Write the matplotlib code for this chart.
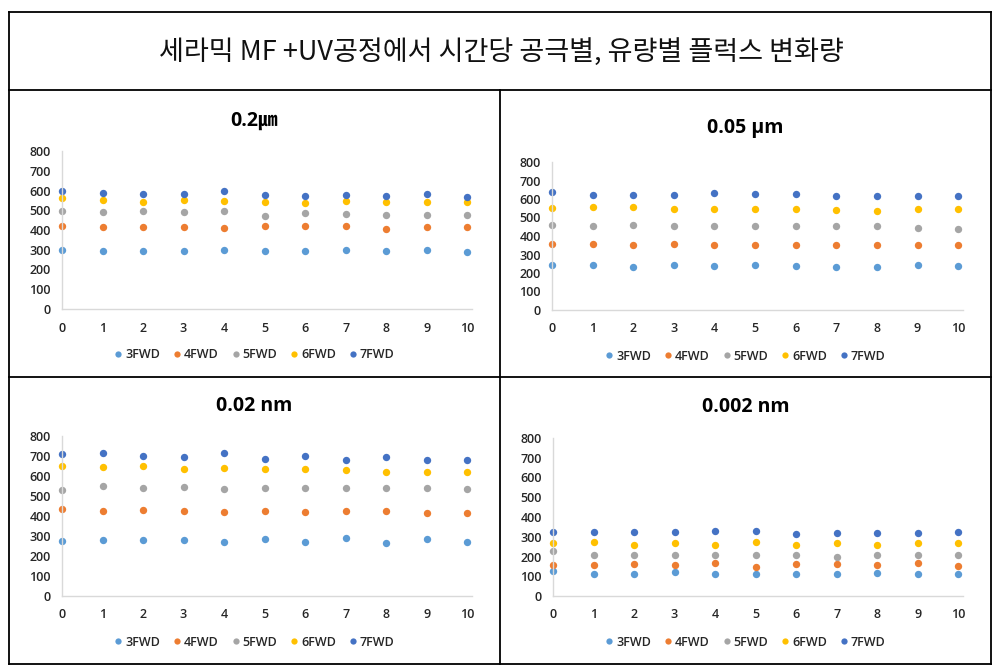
import matplotlib
matplotlib.use("Agg")
import matplotlib.pyplot as plt
from matplotlib.lines import Line2D

W, H = 1003, 672

main_title = "세라믹 MF +UV공정에서 시간당 공극별, 유량별 플럭스 변화량"
series_names = ["3FWD", "4FWD", "5FWD", "6FWD", "7FWD"]
series_colors = ["#5B9BD5", "#ED7D31", "#A5A5A5", "#FFC000", "#4472C4"]
hours = [0, 1, 2, 3, 4, 5, 6, 7, 8, 9, 10]
y_ticks = [0, 100, 200, 300, 400, 500, 600, 700, 800]
panel_titles = ["0.2㎛", "0.05 μm", "0.02 nm", "0.002 nm"]

flux_0_2um = [
    [300, 295, 295, 295, 300, 295, 295, 300, 295, 300, 290],
    [421, 416, 416, 416, 409, 421, 421, 421, 406, 416, 416],
    [497, 492, 497, 492, 497, 472, 485, 482, 477, 477, 477],
    [561, 551, 544, 551, 547, 544, 536, 547, 544, 544, 544],
    [598, 589, 583, 583, 598, 578, 573, 578, 573, 583, 569],
]
flux_0_05um = [
    [243, 243, 232, 243, 237, 243, 237, 232, 232, 243, 237],
    [356, 356, 351, 356, 351, 351, 351, 351, 351, 351, 351],
    [458, 453, 458, 453, 453, 453, 453, 453, 453, 442, 437],
    [554, 556, 556, 548, 548, 545, 545, 538, 534, 545, 545],
    [636, 620, 620, 620, 631, 626, 626, 615, 615, 615, 615],
]
flux_0_02nm = [
    [277, 282, 282, 282, 272, 287, 272, 292, 267, 287, 272],
    [437, 427, 432, 427, 422, 427, 422, 427, 427, 417, 417],
    [532, 552, 542, 547, 537, 542, 542, 542, 542, 542, 537],
    [652, 647, 652, 637, 642, 637, 637, 632, 622, 622, 622],
    [712, 717, 702, 697, 717, 687, 702, 682, 697, 682, 682],
]
flux_0_002nm = [
    [125, 113, 113, 123, 113, 113, 113, 113, 118, 113, 113],
    [157, 157, 162, 157, 165, 147, 160, 160, 157, 165, 152],
    [229, 209, 209, 209, 209, 209, 209, 200, 209, 209, 209],
    [266, 274, 259, 266, 259, 274, 259, 269, 259, 269, 266],
    [325, 325, 325, 325, 330, 330, 315, 320, 320, 320, 325],
]
panel_data = [flux_0_2um, flux_0_05um, flux_0_02nm, flux_0_002nm]

fig = plt.figure(figsize=(W / 100, H / 100), dpi=100)
fig.patch.set_facecolor("white")

def fx(px):
    return px / W

def fy(py):
    return 1 - py / H

# table grid lines
lw = 1.3
def hline(y, x0, x1):
    fig.add_artist(Line2D([fx(x0), fx(x1)], [fy(y), fy(y)], color="black", lw=lw,
                          transform=fig.transFigure))
def vline(x, y0, y1):
    fig.add_artist(Line2D([fx(x), fx(x)], [fy(y0), fy(y1)], color="black", lw=lw,
                          transform=fig.transFigure))

hline(12, 9, 991)
hline(90, 9, 991)
hline(377, 9, 991)
hline(664, 9, 991)
vline(9, 12, 664)
vline(991, 12, 664)
vline(500, 90, 664)

fig.text(0.5, fy(52), main_title, ha="center", va="center", fontsize=19.5,
         family=["Noto Sans CJK KR", "DejaVu Sans"], color="#111111")

# panel layouts: (left px, right px, top px (800), bottom px (0), title y, legend y, cell center x)
layouts = [
    (62, 472, 151, 309, 121, 355, 254.5),
    (552, 963, 162, 310, 128, 356, 745.5),
    (62, 472, 436, 596, 406, 642, 254.5),
    (553, 963, 438, 596, 407, 642, 745.5),
]

tick_family = ["Open Sans", "DejaVu Sans"]

for data, title, (l, r, t, b, ty, ly, cx) in zip(panel_data, panel_titles, layouts):
    ax = fig.add_axes([fx(l), fy(b), fx(r - l), (b - t) / H])
    handles = []
    for vals, name, col in zip(data, series_names, series_colors):
        h, = ax.plot(hours, vals, linestyle="none", marker="o", markersize=5.3,
                     color=col, markeredgewidth=0, clip_on=False, label=name)
        handles.append(h)
    ax.set_xlim(0, 10.12)
    ax.set_ylim(0, 800)
    ax.set_xticks(hours)
    ax.set_yticks(y_ticks)
    ax.tick_params(length=0, colors="#262626")
    ax.tick_params(axis="y", pad=8)
    ax.tick_params(axis="x", pad=9)
    for lab in ax.get_xticklabels() + ax.get_yticklabels():
        lab.set_family(tick_family)
        lab.set_fontsize(9)
        lab.set_fontweight("semibold")
    for s in ["top", "right"]:
        ax.spines[s].set_visible(False)
    for s in ["left", "bottom"]:
        ax.spines[s].set_color("#D9D9D9")
        ax.spines[s].set_linewidth(1.0)
    ax.set_facecolor("none")

    fig.text(fx(cx), fy(ty), title, ha="center", va="center", fontsize=14,
             fontweight="bold", family=["Open Sans", "Noto Sans CJK KR", "DejaVu Sans"],
             color="black")

    leg = fig.legend(handles=handles, loc="center", bbox_to_anchor=(fx(cx), fy(ly)),
                     ncol=5, frameon=False, handlelength=0.6, handletextpad=0.25,
                     columnspacing=1.05, markerscale=0.85,
                     prop=dict(family=tick_family, size=9, weight="semibold"))
    for txt in leg.get_texts():
        txt.set_color("#262626")

fig.savefig("out.png", dpi=100, facecolor="white")
